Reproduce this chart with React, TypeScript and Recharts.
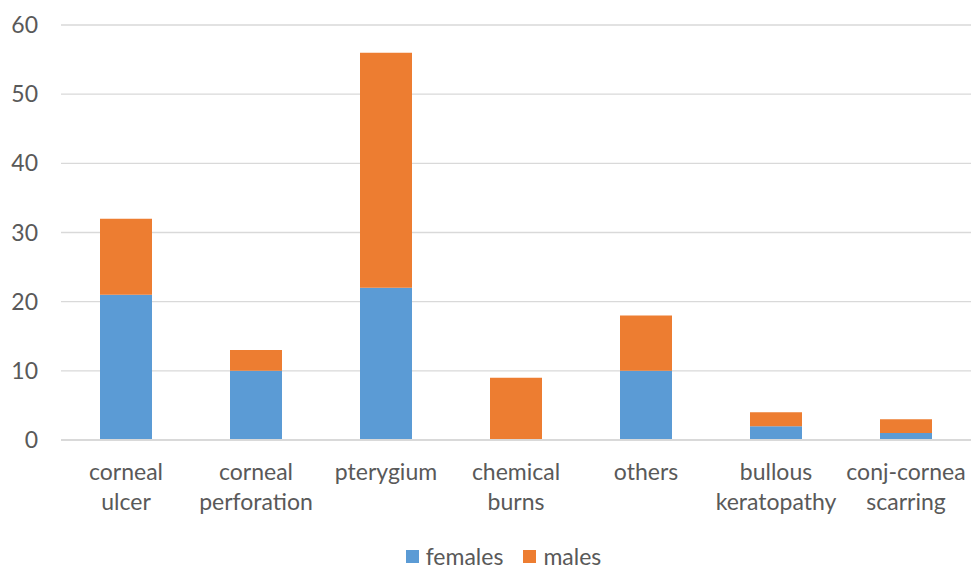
import React from "react";
import { BarChart, Bar, XAxis, YAxis, CartesianGrid } from "recharts";

const categories = [
  "corneal ulcer",
  "corneal perforation",
  "pterygium",
  "chemical burns",
  "others",
  "bullous keratopathy",
  "conj-cornea scarring",
];
const categoryLines = [
  ["corneal", "ulcer"],
  ["corneal", "perforation"],
  ["pterygium"],
  ["chemical", "burns"],
  ["others"],
  ["bullous", "keratopathy"],
  ["conj-cornea", "scarring"],
];
const females = [21, 10, 22, 0, 10, 2, 1];
const males = [11, 3, 34, 9, 8, 2, 2];
const yTicks = [0, 10, 20, 30, 40, 50, 60];

const data = categories.map((c, i) => ({
  name: c,
  females: females[i],
  males: males[i],
}));

const FONT = "Lato, 'Open Sans', sans-serif";
const TEXT = "#595959";

const XTick = (props: any) => {
  const { x, y, index } = props;
  const lines = categoryLines[index] || [];
  return (
    <text x={x} y={y} textAnchor="middle" fill={TEXT} fontFamily={FONT} fontSize={23}>
      {lines.map((l: string, i: number) => (
        <tspan key={i} x={x} dy={i === 0 ? 40 : 30}>
          {l}
        </tspan>
      ))}
    </text>
  );
};

export default function App() {
  return (
    <div style={{ position: "absolute", left: 0, top: 0, width: 971, height: 570, background: "#fff", overflow: "hidden" }}>
      <BarChart
        width={971}
        height={570}
        data={data}
        margin={{ top: 25, right: 0, left: 0, bottom: 50 }}
        barCategoryGap="30%"
      >
        <CartesianGrid vertical={false} stroke="#D9D9D9" strokeWidth={1.3} />
        <XAxis
          dataKey="name"
          height={80}
          tickLine={false}
          axisLine={{ stroke: "#D9D9D9", strokeWidth: 2 }}
          tick={<XTick />}
          interval={0}
          tickSize={0}
          tickMargin={0}
        />
        <YAxis
          width={61}
          domain={[0, 60]}
          ticks={yTicks}
          axisLine={false}
          tickLine={false}
          tickSize={0}
          tickMargin={23}
          tick={{ fill: TEXT, fontFamily: FONT, fontSize: 23 }}
        />
        <Bar dataKey="females" stackId="a" fill="#5B9BD5" isAnimationActive={false} />
        <Bar dataKey="males" stackId="a" fill="#ED7D31" isAnimationActive={false} />
      </BarChart>
      <div
        style={{
          position: "absolute",
          left: 36,
          top: 544,
          width: 935,
          height: 24,
          display: "flex",
          justifyContent: "center",
          alignItems: "center",
          fontFamily: FONT,
          fontSize: 23,
          color: TEXT,
          lineHeight: "24px",
        }}
      >
        <span style={{ display: "inline-block", width: 13, height: 13, background: "#5B9BD5", marginRight: 7 }} />
        <span style={{ marginRight: 20 }}>females</span>
        <span style={{ display: "inline-block", width: 13, height: 13, background: "#ED7D31", marginRight: 7 }} />
        <span>males</span>
      </div>
    </div>
  );
}
